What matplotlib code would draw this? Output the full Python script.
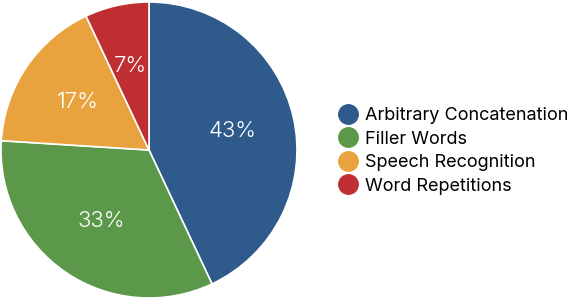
import matplotlib
matplotlib.use("Agg")
import matplotlib.pyplot as plt
from matplotlib.lines import Line2D

labels = ["Arbitrary Concatenation", "Filler Words", "Speech Recognition", "Word Repetitions"]
values = [43, 33, 17, 7]
colors = ["#2f5a8c", "#5b984a", "#e8a33e", "#bf2f31"]

plt.rcParams['font.family'] = ['Inter', 'DejaVu Sans']

fig = plt.figure(figsize=(5.81, 2.99), dpi=100)
W, H = 581, 299
cx, cy, r = 149, 150, 148
ax = fig.add_axes([(cx - r) / W, (H - cy - r) / H, 2 * r / W, 2 * r / H])
wedges, texts, autotexts = ax.pie(values, colors=colors, startangle=90, counterclock=False,
                                  autopct='%d%%', pctdistance=0.58,
                                  wedgeprops=dict(edgecolor='white', linewidth=1.2),
                                  textprops=dict(color='white', fontsize=16))
for t in autotexts:
    t.set_fontweight(300)
ax.set_xlim(-1, 1); ax.set_ylim(-1, 1)
ax.set_aspect('equal')
ax.axis('off')

handles = [Line2D([], [], marker='o', linestyle='', markersize=14, markerfacecolor=c,
                  markeredgecolor=c) for c in colors]
fig.legend(handles, labels, loc='center left', bbox_to_anchor=(332 / W, 1 - 151 / H),
           frameon=False, fontsize=13, handletextpad=0.45, labelspacing=0.36,
           handlelength=1.0, borderaxespad=0)
fig.savefig("out.png", dpi=100)
